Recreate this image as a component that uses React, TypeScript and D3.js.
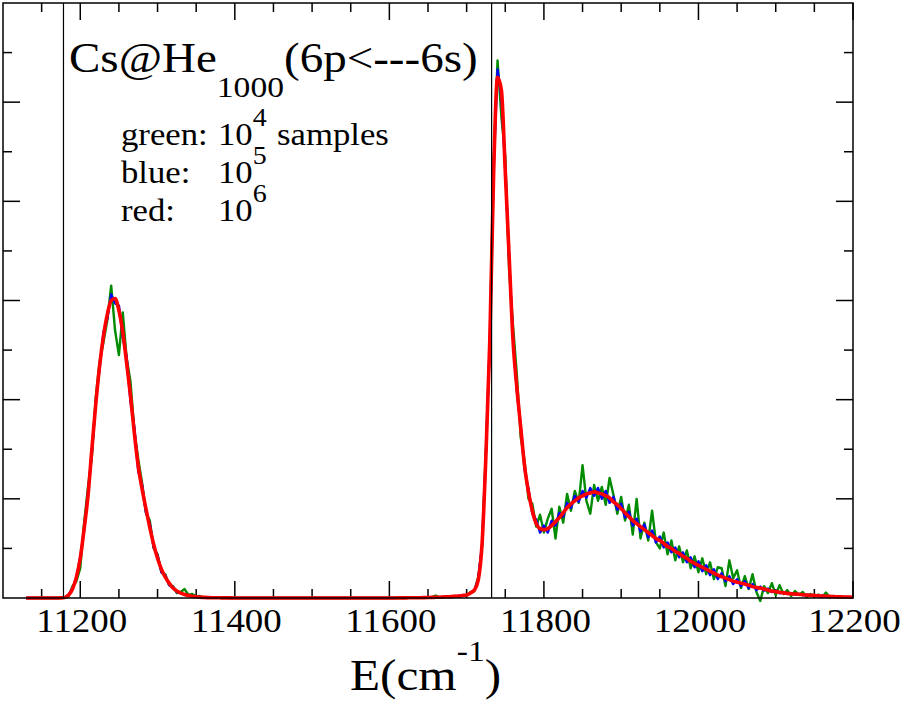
import React, { useEffect, useRef } from 'react';
import * as d3 from 'd3';

// spectra sampled every 5 cm^-1 starting at 11130 cm^-1
const E_START = 11130;
const E_STEP = 5;

// 10^6 samples (red)
const redValues = [
  0, 0, 0, 0, 0, 0, 0, 0, 0, 0.001,
  0.005, 0.03, 0.09, 0.21, 0.4, 0.7, 1.03, 1.5, 1.95, 2.34,
  2.64, 2.86, 3.0, 3.02, 2.9, 2.68, 2.37, 2.04, 1.66, 1.33,
  1.1, 0.9, 0.71, 0.54, 0.4, 0.29, 0.21, 0.15, 0.1, 0.07,
  0.05, 0.035, 0.025, 0.018, 0.013, 0.009, 0.006, 0.004, 0.003, 0.002,
  0.002, 0.001, 0.001, 0.001, 0, 0, 0, 0, 0, 0,
  0, 0, 0, 0, 0, 0, 0, 0, 0, 0,
  0, 0, 0, 0, 0, 0, 0, 0, 0, 0,
  0, 0, 0, 0, 0, 0, 0, 0, 0, 0,
  0, 0, 0, 0, 0, 0, 0.001, 0.001, 0.001, 0.002,
  0.002, 0.003, 0.003, 0.004, 0.005, 0.006, 0.007, 0.008, 0.01, 0.012,
  0.014, 0.017, 0.02, 0.025, 0.03, 0.05, 0.08, 0.18, 0.55, 1.45,
  2.6, 4.3, 5.25, 5.12, 4.3, 3.45, 2.6, 2.12, 1.72, 1.33,
  1.07, 0.88, 0.75, 0.7, 0.69, 0.7, 0.73, 0.77, 0.81, 0.86,
  0.91, 0.95, 0.98, 1.01, 1.03, 1.05, 1.06, 1.07, 1.06, 1.05,
  1.03, 1.01, 0.97, 0.94, 0.9, 0.86, 0.82, 0.78, 0.75, 0.72,
  0.69, 0.66, 0.63, 0.6, 0.58, 0.55, 0.52, 0.5, 0.47, 0.45,
  0.42, 0.4, 0.37, 0.35, 0.33, 0.31, 0.29, 0.27, 0.25, 0.23,
  0.215, 0.2, 0.185, 0.17, 0.16, 0.15, 0.14, 0.13, 0.115, 0.105,
  0.1, 0.09, 0.08, 0.07, 0.064, 0.058, 0.052, 0.047, 0.043, 0.04,
  0.037, 0.033, 0.03, 0.027, 0.025, 0.022, 0.02, 0.018, 0.016, 0.014,
  0.012, 0.011, 0.01, 0.009, 0.008,
];

// 10^5 samples (blue)
const blueValues = [
  0, 0, 0, 0, 0, 0, 0, 0, 0, 0.001,
  0.006, 0.035, 0.1, 0.2, 0.42, 0.68, 1.06, 1.47, 1.97, 2.31,
  2.68, 2.82, 3.06, 2.97, 2.95, 2.63, 2.43, 1.98, 1.72, 1.28,
  1.14, 0.86, 0.75, 0.51, 0.43, 0.26, 0.23, 0.13, 0.11, 0.06,
  0.052, 0.033, 0.027, 0.016, 0.014, 0.008, 0.007, 0.003, 0.003, 0.002,
  0.002, 0.001, 0.001, 0, 0, 0, 0, 0, 0, 0,
  0, 0, 0, 0, 0, 0, 0, 0, 0, 0,
  0, 0, 0, 0, 0, 0, 0, 0, 0, 0,
  0, 0, 0, 0, 0, 0, 0, 0, 0, 0,
  0, 0, 0, 0, 0, 0, 0.001, 0.001, 0.002, 0.002,
  0.002, 0.003, 0.004, 0.004, 0.006, 0.006, 0.008, 0.008, 0.011, 0.012,
  0.015, 0.017, 0.021, 0.025, 0.032, 0.05, 0.08, 0.19, 0.54, 1.47,
  2.58, 4.35, 5.33, 5.05, 4.33, 3.42, 2.62, 2.08, 1.73, 1.29,
  1.1, 0.85, 0.79, 0.66, 0.73, 0.66, 0.78, 0.73, 0.86, 0.82,
  0.96, 0.91, 1.03, 0.97, 1.08, 1.01, 1.11, 1.03, 1.11, 1.0,
  1.08, 0.96, 1.02, 0.89, 0.95, 0.81, 0.87, 0.73, 0.8, 0.67,
  0.74, 0.61, 0.68, 0.56, 0.62, 0.51, 0.56, 0.46, 0.51, 0.41,
  0.46, 0.36, 0.41, 0.31, 0.37, 0.27, 0.33, 0.23, 0.29, 0.19,
  0.25, 0.17, 0.22, 0.14, 0.19, 0.12, 0.17, 0.1, 0.14, 0.08,
  0.115, 0.075, 0.095, 0.06, 0.075, 0.048, 0.06, 0.04, 0.05, 0.034,
  0.042, 0.028, 0.034, 0.022, 0.029, 0.018, 0.023, 0.015, 0.019, 0.011,
  0.014, 0.009, 0.011, 0.007, 0.009,
];

// 10^4 samples (green)
const greenValues = [
  0, 0, 0, 0, 0, 0, 0, 0, 0, 0.002,
  0.006, 0.02, 0.12, 0.17, 0.3, 0.76, 1.12, 1.42, 2.02, 2.38,
  2.58, 2.8, 3.15, 2.7, 2.45, 2.88, 2.42, 2.18, 1.68, 1.4,
  1.16, 0.86, 0.78, 0.5, 0.44, 0.26, 0.24, 0.13, 0.12, 0.05,
  0.06, 0.09, 0.03, 0.04, 0.015, 0.02, 0.004, 0.006, 0.002, 0.003,
  0.002, 0, 0.001, 0, 0, 0.001, 0, 0, 0, 0,
  0, 0, 0, 0, 0, 0, 0, 0, 0, 0,
  0, 0, 0, 0, 0, 0, 0, 0, 0, 0,
  0, 0, 0, 0, 0, 0, 0, 0, 0, 0,
  0, 0, 0, 0, 0, 0.001, 0, 0.002, 0, 0.003,
  0.001, 0.004, 0.002, 0.006, 0.003, 0.008, 0.025, 0.006, 0.012, 0.015,
  0.01, 0.022, 0.015, 0.03, 0.025, 0.06, 0.07, 0.21, 0.52, 1.5,
  2.55, 4.4, 5.42, 4.85, 4.45, 3.3, 2.75, 2.25, 1.62, 1.38,
  1.0, 0.95, 0.72, 0.84, 0.66, 0.8, 0.9, 0.6, 0.92, 0.76,
  1.05, 0.88, 1.08, 0.96, 1.34, 0.98, 0.85, 1.14, 0.98, 1.12,
  0.94, 1.21, 1.04, 0.85, 1.02, 0.78, 0.94, 0.64, 1.0, 0.6,
  0.76, 0.58, 0.88, 0.56, 0.5, 0.66, 0.44, 0.58, 0.38, 0.52,
  0.36, 0.48, 0.3, 0.42, 0.26, 0.4, 0.24, 0.36, 0.19, 0.31,
  0.3, 0.12, 0.38, 0.2, 0.28, 0.1, 0.22, 0.09, 0.24, 0.06,
  -0.03, 0.12, 0.05, 0.15, 0.03, 0.13, 0.04, 0.08, 0.02, 0.07,
  0.03, 0.06, 0.01, 0.04, 0.02, 0.035, 0.01, 0.055, 0.005, 0.02,
  0.008, 0.015, 0.004, 0.01, 0.006,
];

// free-atom Cs D1 / D2 lines
const atomicLines = [11178.27, 11732.31];

const xLabelTicks = [11200, 11400, 11600, 11800, 12000, 12200];
const legendLabels = ['green:', 'blue:', 'red:'];
const legendExponents = ['4', '5', '6'];

const FONT = "'Liberation Serif', 'Times New Roman', serif";
const SX = 1.12;

const App = () => {
  const ref = useRef<SVGSVGElement>(null);

  useEffect(() => {
    drawChart();
  }, []);

  const drawChart = () => {
    const svg = d3.select(ref.current);
    svg.selectAll('*').remove();

    const left = 3, right = 853, top = 3, bottom = 598;
    const xScale = d3.scaleLinear().domain([11100, 12200]).range([left, right]);
    const yScale = d3.scaleLinear().domain([0, 6]).range([bottom, top]);

    const energies = redValues.map((_, i) => E_START + i * E_STEP);

    // ticks
    const major = 17, minor = 9;
    const xMajor = d3.range(11200, 12201, 200);
    const xMinor = d3.range(11150, 12200, 50).filter(v => !xMajor.includes(v));
    const yMajor = d3.range(1, 6, 1);
    const yMinor = d3.range(0.5, 6, 1);
    const ticks = svg.append('g').attr('stroke', '#000').attr('stroke-width', 1.5);

    const addX = (vals: number[], len: number) => {
      vals.forEach(v => {
        const px = xScale(v);
        ticks.append('line').attr('x1', px).attr('x2', px).attr('y1', bottom).attr('y2', bottom - len);
        ticks.append('line').attr('x1', px).attr('x2', px).attr('y1', top).attr('y2', top + len);
      });
    };
    const addY = (vals: number[], len: number) => {
      vals.forEach(v => {
        const py = yScale(v);
        ticks.append('line').attr('x1', left).attr('x2', left + len).attr('y1', py).attr('y2', py);
        ticks.append('line').attr('x1', right).attr('x2', right - len).attr('y1', py).attr('y2', py);
      });
    };
    addX(xMajor, major);
    addX(xMinor, minor);
    addY(yMajor, major);
    addY(yMinor, minor);

    // spectra
    const series = [
      { values: greenValues, color: 'rgb(0,139,0)', width: 2.4, curve: d3.curveLinear },
      { values: blueValues, color: 'rgb(0,0,255)', width: 2.4, curve: d3.curveLinear },
      { values: redValues, color: 'rgb(255,0,0)', width: 3.6, curve: d3.curveMonotoneX },
    ];
    series.forEach(s => {
      const line = d3
        .line<number>()
        .x((_, i) => xScale(energies[i]))
        .y(d => yScale(d))
        .curve(s.curve);
      svg
        .append('path')
        .attr('d', line(s.values))
        .attr('fill', 'none')
        .attr('stroke', s.color)
        .attr('stroke-width', s.width)
        .attr('stroke-linejoin', 'round');
    });

    // atomic reference lines
    atomicLines.forEach(e => {
      svg
        .append('line')
        .attr('x1', xScale(e))
        .attr('x2', xScale(e))
        .attr('y1', top)
        .attr('y2', bottom)
        .attr('stroke', '#000')
        .attr('stroke-width', 1.2);
    });

    // frame
    svg
      .append('rect')
      .attr('x', left)
      .attr('y', top)
      .attr('width', right - left)
      .attr('height', bottom - top)
      .attr('fill', 'none')
      .attr('stroke', '#000')
      .attr('stroke-width', 1.5);

    const text = (x: number, y: number, size: number, anchor = 'start') =>
      svg
        .append('text')
        .attr('transform', `translate(${x},${y}) scale(${SX},1)`)
        .attr('font-family', FONT)
        .attr('font-size', size)
        .attr('text-anchor', anchor)
        .attr('fill', '#000');

    // x tick labels
    xLabelTicks.forEach(v => {
      text(xScale(v) + 1.5, 632, 33, 'middle').text(String(v));
    });

    // axis title
    const xt = text(350, 690, 44);
    xt.append('tspan').text('E(cm');
    xt.append('tspan').attr('font-size', 30).attr('dy', -29).text('-1');
    xt.append('tspan').attr('dy', 29).text(')');

    // title
    const tt = text(69, 72, 42);
    tt.append('tspan').text('Cs@He');
    tt.append('tspan').attr('font-size', 30).attr('dy', 25).text('1000');
    tt.append('tspan').attr('dy', -25).text('(6p<---6s)');

    // legend notes
    legendLabels.forEach((label, i) => {
      const yy = 145 + i * 38;
      text(121, yy, 31).text(label);
      const num = text(218, yy, 31);
      num.append('tspan').text('10');
      num.append('tspan').attr('font-size', 25).attr('dy', -19).text(legendExponents[i]);
    });
    text(277, 145, 31).text('samples');
  };

  return (
    <svg
      ref={ref}
      width={900}
      height={702}
      style={{ position: 'absolute', left: 0, top: 0, background: '#fff' }}
    />
  );
};

export default App;
